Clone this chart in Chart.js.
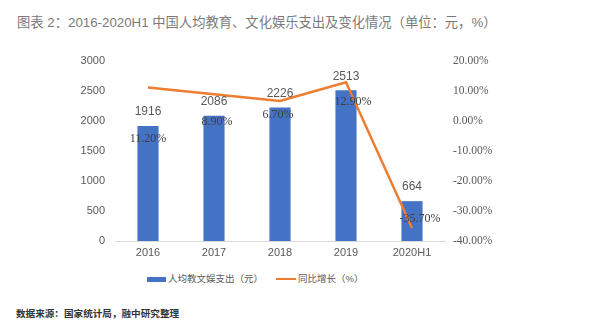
<!DOCTYPE html>
<html>
<head>
<meta charset="utf-8">
<script src="https://cdn.jsdelivr.net/npm/chart.js@4/dist/chart.umd.min.js"></script>
<style>
  body { margin: 0; background: #fff; font-family: "Liberation Sans", "Noto Sans CJK SC", sans-serif; }
  #wrap { position: relative; width: 600px; height: 330px; overflow: hidden; }
  #title { position: absolute; left: 17px; top: 12px; font-size: 13.3px; color: #7a7a7a; white-space: nowrap; }
  #chartBox { position: absolute; left: 0; top: 0; width: 600px; height: 265px; }
  #legend { position: absolute; top: 272px; left: 0; width: 600px; height: 14px; font-size: 9.5px; color: #595959; }
  .lg { position: absolute; top: 0; white-space: nowrap; line-height: 14px; }
  .sw { display: inline-block; vertical-align: middle; margin-right: 2px; }
  #footer { position: absolute; left: 16px; top: 306px; font-size: 9.6px; color: #333; font-weight: bold; white-space: nowrap; }
</style>
</head>
<body>
<div id="wrap">
  <div id="title">图表 2：2016-2020H1 中国人均教育、文化娱乐支出及变化情况（单位：元，%）</div>
  <div id="chartBox"><canvas id="chart"></canvas></div>
  <div id="legend">
    <div class="lg" style="left:147px"><span class="sw" style="width:19px;height:5px;background:#4472C4"></span>人均教文娱支出（元）</div>
    <div class="lg" style="left:276px"><span class="sw" style="width:20px;height:2px;background:#ED7D31"></span>同比增长（%）</div>
  </div>
  <div id="footer">数据来源：国家统计局，融中研究整理</div>
</div>
<script>
const categories = ["2016", "2017", "2018", "2019", "2020H1"];
const spending = [1916, 2086, 2226, 2513, 664];
const growth = [11.2, 8.9, 6.7, 12.9, -35.7];
const leftTicks = [0, 500, 1000, 1500, 2000, 2500, 3000];
const rightTicks = [-40, -30, -20, -10, 0, 10, 20];

// where the % labels sit relative to their point (as in the source picture)
const pctOffsets = [[0, 51], [3, 28], [-2, 14], [7, 20], [8, -9]];

const labelPlugin = {
  id: "labels",
  afterDatasetsDraw(chart) {
    const ctx = chart.ctx;
    ctx.save();
    ctx.textAlign = "center";
    ctx.textBaseline = "middle";

    const barMeta = chart.getDatasetMeta(1);
    ctx.font = "12px 'Liberation Sans', sans-serif";
    ctx.fillStyle = "#595959";
    barMeta.data.forEach((el, i) => {
      ctx.fillText(String(spending[i]), el.x, el.y - 14);
    });

    const lineMeta = chart.getDatasetMeta(0);
    ctx.font = "12px 'Liberation Serif', serif";
    ctx.fillStyle = "#404040";
    lineMeta.data.forEach((el, i) => {
      const o = pctOffsets[i];
      ctx.fillText(growth[i].toFixed(2) + "%", el.x + o[0], el.y + o[1]);
    });
    ctx.restore();
  },
};

const ctx = document.getElementById("chart").getContext("2d");
new Chart(ctx, {
  data: {
    labels: categories,
    datasets: [
      {
        type: "line",
        label: "同比增长（%）",
        data: growth,
        yAxisID: "y1",
        borderColor: "#ED7D31",
        borderWidth: 2.5,
        pointRadius: 0,
        tension: 0,
        order: 0,
      },
      {
        type: "bar",
        label: "人均教文娱支出（元）",
        data: spending,
        yAxisID: "y",
        backgroundColor: "#4472C4",
        categoryPercentage: 1,
        barPercentage: 0.32,
        order: 1,
      },
    ],
  },
  options: {
    responsive: true,
    maintainAspectRatio: false,
    animation: false,
    layout: { padding: { top: 61, left: 0, right: 0, bottom: 0 } },
    plugins: {
      legend: { display: false },
      tooltip: { enabled: false },
    },
    scales: {
      x: {
        offset: true,
        grid: { display: false, drawTicks: false },
        border: { color: "#d9d9d9", width: 1 },
        ticks: {
          color: "#595959",
          padding: 5,
          font: { size: 11, family: "'Liberation Sans', sans-serif" },
        },
        afterFit(scale) { scale.height = 24; },
      },
      y: {
        position: "left",
        min: 0,
        max: 3000,
        grid: { display: false, drawTicks: false },
        border: { display: false },
        afterBuildTicks(scale) { scale.ticks = leftTicks.map((v) => ({ value: v })); },
        ticks: {
          color: "#595959",
          padding: 10,
          font: { size: 11, family: "'Liberation Sans', sans-serif" },
          callback: (v) => String(v),
        },
        afterFit(scale) { scale.width = 115; },
      },
      y1: {
        position: "right",
        min: -40,
        max: 20,
        grid: { display: false, drawTicks: false },
        border: { display: false },
        afterBuildTicks(scale) { scale.ticks = rightTicks.map((v) => ({ value: v })); },
        ticks: {
          color: "#595959",
          padding: 8,
          font: { size: 11.5, family: "'Liberation Serif', serif" },
          callback: (v) => v.toFixed(2) + "%",
        },
        afterFit(scale) { scale.width = 155; },
      },
    },
  },
  plugins: [labelPlugin],
});
</script>
</body>
</html>
